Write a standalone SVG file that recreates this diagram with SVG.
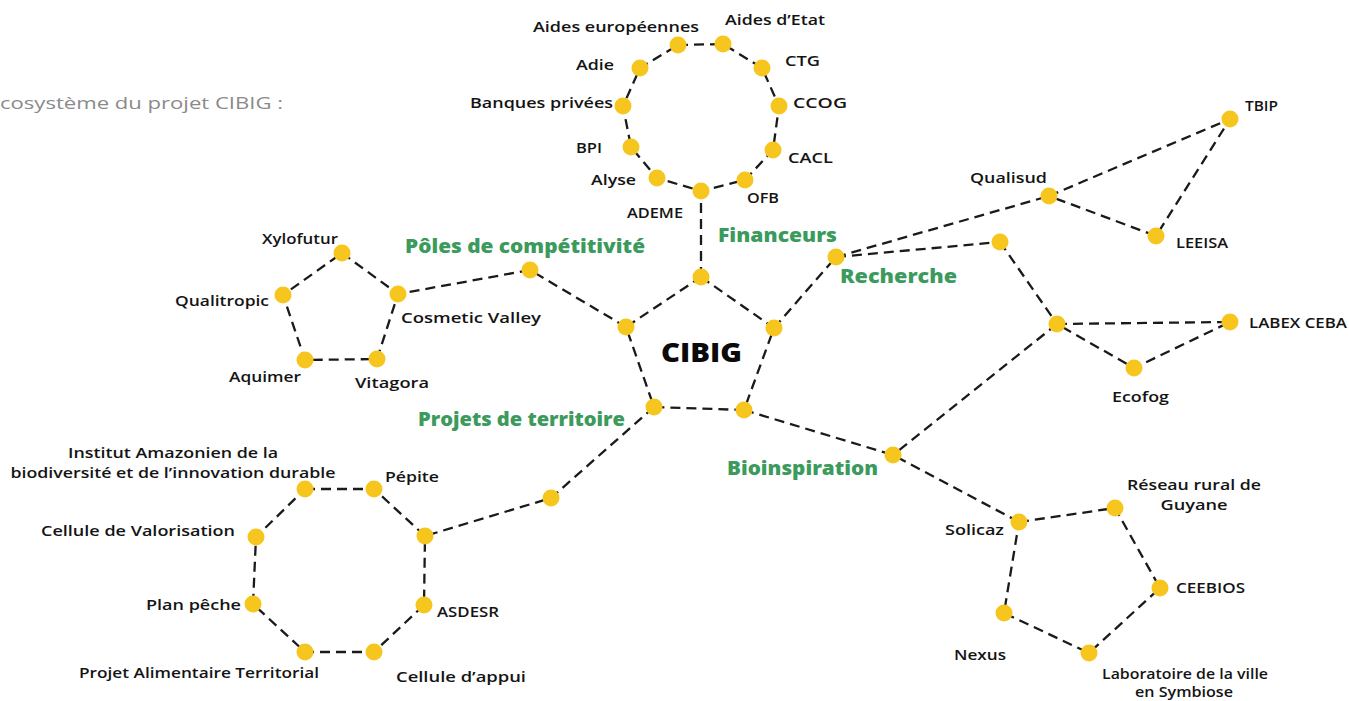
<svg xmlns="http://www.w3.org/2000/svg" width="1349" height="701" viewBox="0 0 1349 701">
<style>
.bg{fill:#ffffff}
.edge{stroke:#1a1a1a;stroke-width:2.3;stroke-dasharray:10 6;fill:none}
.dot{fill:#F6C61E}
.lbl{font-family:"Open Sans","Noto Sans",sans-serif;font-weight:600;font-size:14px;fill:#141414}
.grp{font-family:"Open Sans","Noto Sans",sans-serif;font-weight:800;font-size:19px;fill:#3B9A5C}
.core{font-family:"Open Sans","Noto Sans",sans-serif;font-weight:800;font-size:27px;fill:#0a0a0a}
.cap{font-family:"Open Sans","Noto Sans",sans-serif;font-weight:400;font-size:16px;fill:#8a8a8a}
.e{text-anchor:end}
.m{text-anchor:middle}
</style>
<rect class="bg" x="0" y="0" width="1349" height="701"/>
<text class="cap" x="0" y="109" textLength="283" lengthAdjust="spacingAndGlyphs">cosystème du projet CIBIG :</text>

<g id="connectors">
  <polygon class="edge" points="701,277 774,328 744,410 654,407 626,327"/>
  <line class="edge" x1="701" y1="277" x2="701" y2="191"/>
  <polygon class="edge" points="678,45 723,44 762,68 779,106 773,150 745,180 701,191 657,178 631,147 623,106 640,68"/>
  <polyline class="edge" points="626,327 530,270 398,294"/>
  <polygon class="edge" points="342,253 398,294 377,359 305,360 283,295"/>
  <polyline class="edge" points="654,407 551,498 425,536"/>
  <polygon class="edge" points="305,489 374,489 425,536 424,605 374,652 305,652 253,604 256,537"/>
  <line class="edge" x1="774" y1="328" x2="836" y2="257"/>
  <line class="edge" x1="836" y1="257" x2="1049" y2="196"/>
  <line class="edge" x1="836" y1="257" x2="1000" y2="242"/>
  <polygon class="edge" points="1049,196 1230,119 1156,236"/>
  <line class="edge" x1="1000" y1="242" x2="1057" y2="324"/>
  <polygon class="edge" points="1057,324 1230,322 1134,368"/>
  <line class="edge" x1="1057" y1="324" x2="893" y2="455"/>
  <polyline class="edge" points="744,410 893,455 1019,522"/>
  <polygon class="edge" points="1019,522 1115,508 1160,588 1089,653 1004,613"/>
</g>

<g id="node-cibig">
  <circle class="dot" cx="701" cy="277" r="8.5"/>
  <circle class="dot" cx="774" cy="328" r="8.5"/>
  <circle class="dot" cx="744" cy="410" r="8.5"/>
  <circle class="dot" cx="654" cy="407" r="8.5"/>
  <circle class="dot" cx="626" cy="327" r="8.5"/>
  <text class="core m" x="701.5" y="362" textLength="81" lengthAdjust="spacingAndGlyphs">CIBIG</text>
</g>

<g id="group-financeurs"><text class="grp" x="718" y="242" textLength="119" lengthAdjust="spacingAndGlyphs">Financeurs</text></g>
<g id="group-recherche"><circle class="dot" cx="836" cy="257" r="8.5"/><text class="grp" x="840" y="283" textLength="117" lengthAdjust="spacingAndGlyphs">Recherche</text></g>
<g id="group-poles"><circle class="dot" cx="530" cy="270" r="8.5"/><text class="grp" x="405" y="253" textLength="240" lengthAdjust="spacingAndGlyphs">Pôles de compétitivité</text></g>
<g id="group-projets"><circle class="dot" cx="551" cy="498" r="8.5"/><text class="grp" x="418" y="426" textLength="207" lengthAdjust="spacingAndGlyphs">Projets de territoire</text></g>
<g id="group-bio"><circle class="dot" cx="893" cy="455" r="8.5"/><text class="grp" x="727" y="475" textLength="151" lengthAdjust="spacingAndGlyphs">Bioinspiration</text></g>

<g id="node-aides-europeennes"><circle class="dot" cx="678" cy="45" r="8.5"/><text class="lbl" x="533" y="32" textLength="166" lengthAdjust="spacingAndGlyphs">Aides européennes</text></g>
<g id="node-aides-etat"><circle class="dot" cx="723" cy="44" r="8.5"/><text class="lbl" x="725" y="25" textLength="100" lengthAdjust="spacingAndGlyphs">Aides d’Etat</text></g>
<g id="node-ctg"><circle class="dot" cx="762" cy="68" r="8.5"/><text class="lbl" x="785" y="66" textLength="35" lengthAdjust="spacingAndGlyphs">CTG</text></g>
<g id="node-ccog"><circle class="dot" cx="779" cy="106" r="8.5"/><text class="lbl" x="793" y="108" textLength="54" lengthAdjust="spacingAndGlyphs">CCOG</text></g>
<g id="node-cacl"><circle class="dot" cx="773" cy="150" r="8.5"/><text class="lbl" x="788" y="163" textLength="45" lengthAdjust="spacingAndGlyphs">CACL</text></g>
<g id="node-ofb"><circle class="dot" cx="745" cy="180" r="8.5"/><text class="lbl" x="747" y="203" textLength="32" lengthAdjust="spacingAndGlyphs">OFB</text></g>
<g id="node-ademe"><circle class="dot" cx="701" cy="191" r="8.5"/><text class="lbl e" x="683" y="218" textLength="56" lengthAdjust="spacingAndGlyphs">ADEME</text></g>
<g id="node-alyse"><circle class="dot" cx="657" cy="178" r="8.5"/><text class="lbl e" x="636" y="185" textLength="45" lengthAdjust="spacingAndGlyphs">Alyse</text></g>
<g id="node-bpi"><circle class="dot" cx="631" cy="147" r="8.5"/><text class="lbl e" x="602" y="153" textLength="26" lengthAdjust="spacingAndGlyphs">BPI</text></g>
<g id="node-banques"><circle class="dot" cx="623" cy="106" r="8.5"/><text class="lbl e" x="613" y="108" textLength="143" lengthAdjust="spacingAndGlyphs">Banques privées</text></g>
<g id="node-adie"><circle class="dot" cx="640" cy="68" r="8.5"/><text class="lbl e" x="614" y="70" textLength="38" lengthAdjust="spacingAndGlyphs">Adie</text></g>

<g id="node-xylofutur"><circle class="dot" cx="342" cy="253" r="8.5"/><text class="lbl" x="262" y="244" textLength="76" lengthAdjust="spacingAndGlyphs">Xylofutur</text></g>
<g id="node-cosmetic"><circle class="dot" cx="398" cy="294" r="8.5"/><text class="lbl" x="401" y="323" textLength="140" lengthAdjust="spacingAndGlyphs">Cosmetic Valley</text></g>
<g id="node-vitagora"><circle class="dot" cx="377" cy="359" r="8.5"/><text class="lbl" x="355" y="388" textLength="74" lengthAdjust="spacingAndGlyphs">Vitagora</text></g>
<g id="node-aquimer"><circle class="dot" cx="305" cy="360" r="8.5"/><text class="lbl" x="229" y="382" textLength="72" lengthAdjust="spacingAndGlyphs">Aquimer</text></g>
<g id="node-qualitropic"><circle class="dot" cx="283" cy="295" r="8.5"/><text class="lbl e" x="269" y="306" textLength="94" lengthAdjust="spacingAndGlyphs">Qualitropic</text></g>

<g id="node-institut"><circle class="dot" cx="305" cy="489" r="8.5"/><text class="lbl m" x="173" y="458" textLength="210" lengthAdjust="spacingAndGlyphs">Institut Amazonien de la</text><text class="lbl m" x="173" y="478" textLength="325" lengthAdjust="spacingAndGlyphs">biodiversité et de l’innovation durable</text></g>
<g id="node-pepite"><circle class="dot" cx="374" cy="489" r="8.5"/><text class="lbl" x="385" y="482" textLength="54" lengthAdjust="spacingAndGlyphs">Pépite</text></g>
<g id="node-projets-link"><circle class="dot" cx="425" cy="536" r="8.5"/></g>
<g id="node-asdesr"><circle class="dot" cx="424" cy="605" r="8.5"/><text class="lbl" x="437" y="617" textLength="62" lengthAdjust="spacingAndGlyphs">ASDESR</text></g>
<g id="node-cellule-appui"><circle class="dot" cx="374" cy="652" r="8.5"/><text class="lbl" x="396" y="682" textLength="130" lengthAdjust="spacingAndGlyphs">Cellule d’appui</text></g>
<g id="node-pat"><circle class="dot" cx="305" cy="652" r="8.5"/><text class="lbl" x="79" y="678" textLength="240" lengthAdjust="spacingAndGlyphs">Projet Alimentaire Territorial</text></g>
<g id="node-plan-peche"><circle class="dot" cx="253" cy="604" r="8.5"/><text class="lbl e" x="241" y="610" textLength="95" lengthAdjust="spacingAndGlyphs">Plan pêche</text></g>
<g id="node-cellule-valo"><circle class="dot" cx="256" cy="537" r="8.5"/><text class="lbl e" x="235" y="536" textLength="194" lengthAdjust="spacingAndGlyphs">Cellule de Valorisation</text></g>

<g id="node-qualisud"><circle class="dot" cx="1049" cy="196" r="8.5"/><text class="lbl" x="970" y="183" textLength="77" lengthAdjust="spacingAndGlyphs">Qualisud</text></g>
<g id="node-tbip"><circle class="dot" cx="1230" cy="119" r="8.5"/><text class="lbl" x="1245" y="111" textLength="33" lengthAdjust="spacingAndGlyphs">TBIP</text></g>
<g id="node-leeisa"><circle class="dot" cx="1156" cy="236" r="8.5"/><text class="lbl" x="1176" y="248" textLength="52" lengthAdjust="spacingAndGlyphs">LEEISA</text></g>
<g id="node-recherche-link"><circle class="dot" cx="1000" cy="242" r="8.5"/></g>
<g id="node-recherche-junction"><circle class="dot" cx="1057" cy="324" r="8.5"/></g>
<g id="node-labex"><circle class="dot" cx="1230" cy="322" r="8.5"/><text class="lbl" x="1249" y="328" textLength="98" lengthAdjust="spacingAndGlyphs">LABEX CEBA</text></g>
<g id="node-ecofog"><circle class="dot" cx="1134" cy="368" r="8.5"/><text class="lbl" x="1112" y="402" textLength="57" lengthAdjust="spacingAndGlyphs">Ecofog</text></g>

<g id="node-solicaz"><circle class="dot" cx="1019" cy="522" r="8.5"/><text class="lbl e" x="1004" y="535" textLength="59" lengthAdjust="spacingAndGlyphs">Solicaz</text></g>
<g id="node-reseau"><circle class="dot" cx="1115" cy="508" r="8.5"/><text class="lbl m" x="1194" y="490" textLength="134" lengthAdjust="spacingAndGlyphs">Réseau rural de</text><text class="lbl m" x="1194" y="510" textLength="67" lengthAdjust="spacingAndGlyphs">Guyane</text></g>
<g id="node-ceebios"><circle class="dot" cx="1160" cy="588" r="8.5"/><text class="lbl" x="1176" y="593" textLength="69" lengthAdjust="spacingAndGlyphs">CEEBIOS</text></g>
<g id="node-laboratoire"><circle class="dot" cx="1089" cy="653" r="8.5"/><text class="lbl m" x="1185" y="679" textLength="166" lengthAdjust="spacingAndGlyphs">Laboratoire de la ville</text><text class="lbl m" x="1184" y="697" textLength="98" lengthAdjust="spacingAndGlyphs">en Symbiose</text></g>
<g id="node-nexus"><circle class="dot" cx="1004" cy="613" r="8.5"/><text class="lbl" x="954" y="660" textLength="52" lengthAdjust="spacingAndGlyphs">Nexus</text></g>
</svg>
